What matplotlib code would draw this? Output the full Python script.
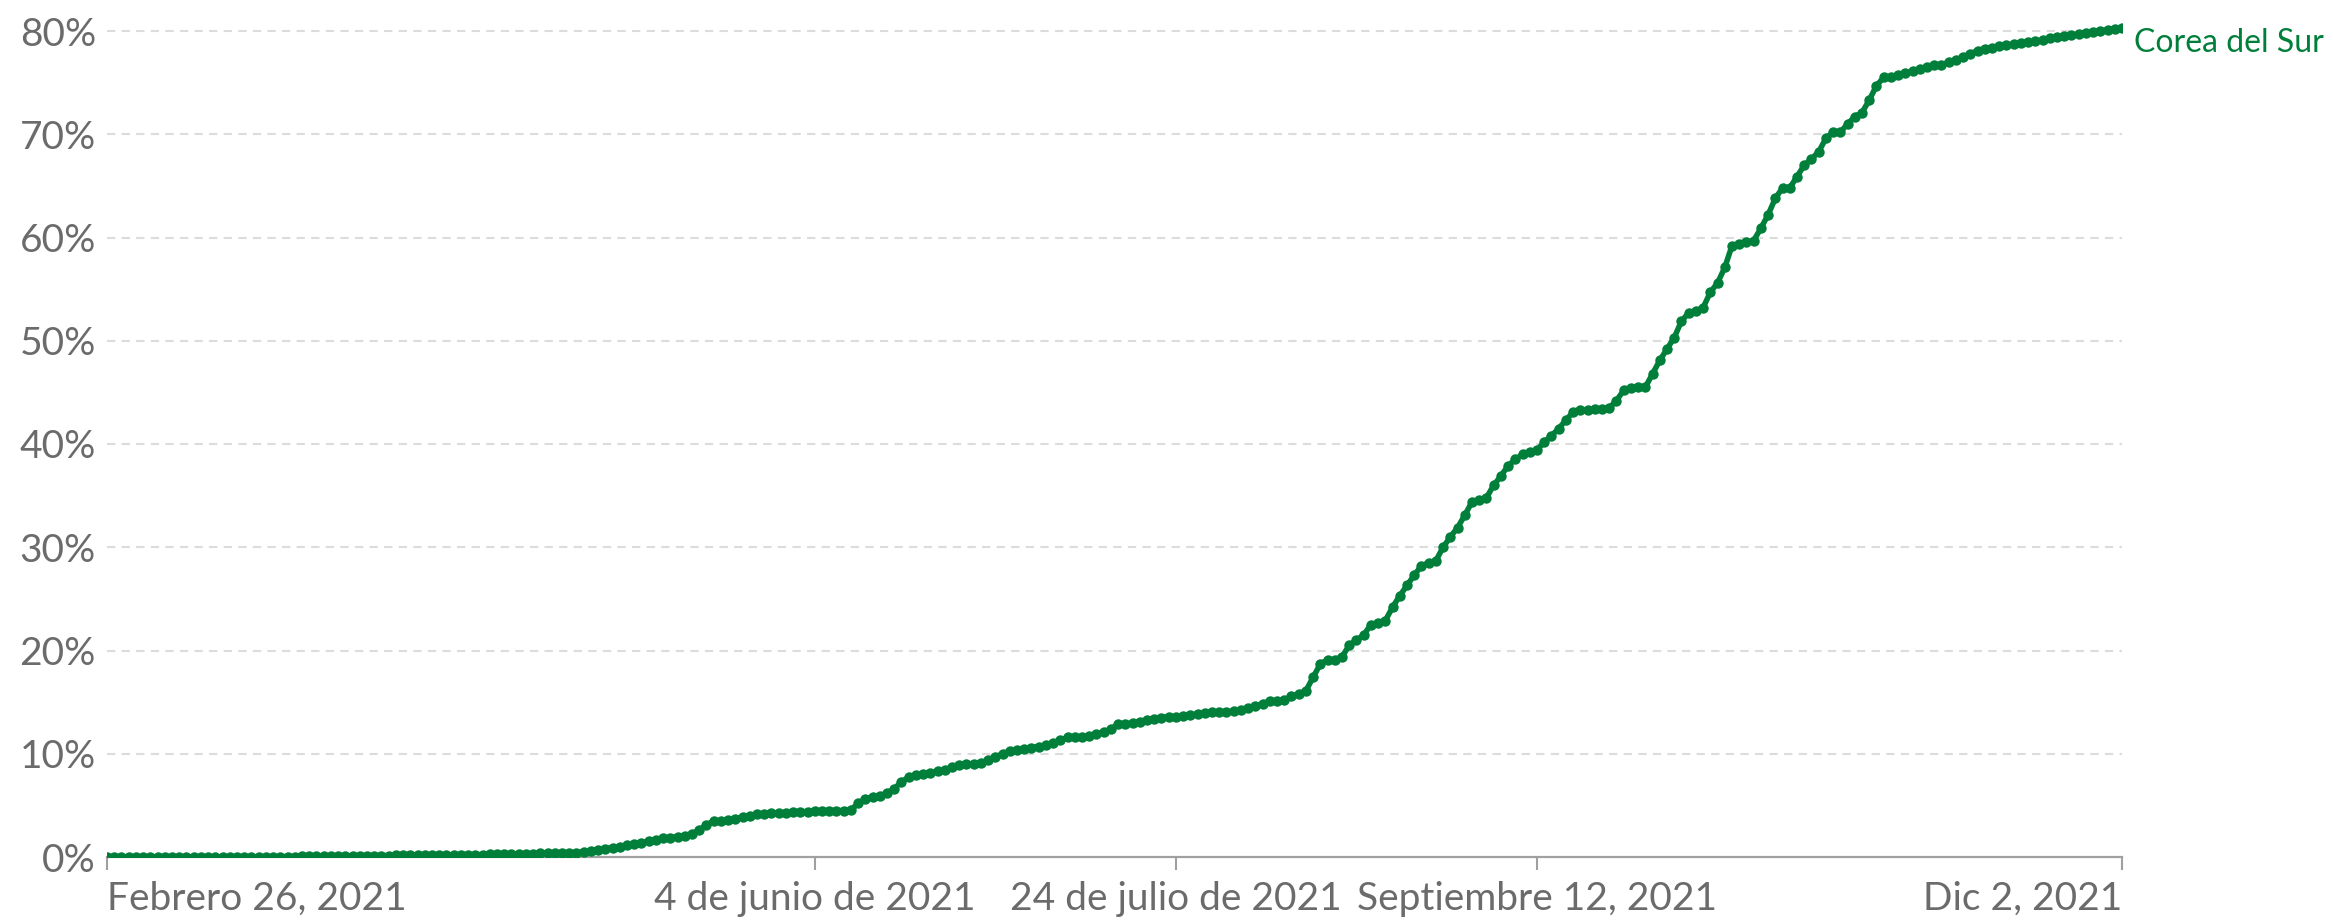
import numpy as np
import pandas as pd
import matplotlib
matplotlib.use("Agg")
import matplotlib.pyplot as plt
import matplotlib.dates as mdates

# ---- data ----
start_date = "2021-02-26"
end_date = "2021-12-02"
series_name = "Corea del Sur"
# share of people fully vaccinated (%), one value per day from Feb 26 to Dec 2, 2021
values = [
    0, 0, 0, 0, 0, 0, 0,
    0, 0, 0, 0, 0, 0, 0,
    0, 0, 0, 0, 0, 0, 0,
    0.00, 0.01, 0.02, 0.02, 0.03, 0.04, 0.05,
    0.06, 0.06, 0.07, 0.08, 0.09, 0.10, 0.10,
    0.11, 0.11, 0.12, 0.13, 0.14, 0.15, 0.15,
    0.16, 0.16, 0.17, 0.18, 0.19, 0.20, 0.20,
    0.21, 0.21, 0.22, 0.24, 0.26, 0.28, 0.28,
    0.29, 0.29, 0.31, 0.33, 0.34, 0.35, 0.36,
    0.38, 0.40, 0.42, 0.50, 0.58, 0.68, 0.80,
    0.90, 1.00, 1.12, 1.26, 1.40, 1.52, 1.66,
    1.80, 1.88, 1.95, 2.05, 2.25, 2.60, 3.10,
    3.50, 3.50, 3.55, 3.70, 3.85, 4.00, 4.12,
    4.20, 4.22, 4.26, 4.30, 4.33, 4.37, 4.40,
    4.43, 4.47, 4.50, 4.50, 4.50, 4.55, 5.20,
    5.60, 5.85, 5.90, 6.20, 6.60, 7.30, 7.70,
    7.90, 8.00, 8.15, 8.30, 8.45, 8.70, 8.90,
    9.00, 9.05, 9.10, 9.40, 9.70, 10.00, 10.25,
    10.40, 10.50, 10.60, 10.70, 10.80, 11.00, 11.30,
    11.60, 11.65, 11.65, 11.70, 11.90, 12.10, 12.40,
    12.85, 12.90, 12.95, 13.10, 13.30, 13.40, 13.50,
    13.60, 13.60, 13.65, 13.75, 13.85, 13.95, 14.05,
    14.07, 14.07, 14.10, 14.20, 14.40, 14.60, 14.85,
    15.10, 15.10, 15.20, 15.55, 15.80, 16.10, 17.40,
    18.70, 19.10, 19.10, 19.40, 20.50, 21.00, 21.50,
    22.50, 22.70, 22.90, 24.20, 25.30, 26.30, 27.30,
    28.20, 28.50, 28.70, 30.00, 31.00, 31.90, 33.10,
    34.40, 34.60, 34.80, 36.00, 36.90, 37.90, 38.50,
    39.00, 39.20, 39.40, 40.20, 40.80, 41.50, 42.30,
    43.10, 43.30, 43.30, 43.40, 43.40, 43.50, 44.20,
    45.20, 45.40, 45.50, 45.50, 46.80, 48.10, 49.20,
    50.30, 51.90, 52.70, 52.90, 53.20, 54.70, 55.60,
    57.10, 59.20, 59.40, 59.60, 59.70, 60.90, 62.20,
    63.80, 64.80, 64.80, 65.90, 67.00, 67.60, 68.30,
    69.60, 70.20, 70.20, 71.00, 71.70, 72.10, 73.30,
    74.70, 75.50, 75.50, 75.70, 75.90, 76.10, 76.30,
    76.50, 76.70, 76.70, 77.00, 77.20, 77.50, 77.80,
    78.10, 78.30, 78.40, 78.50, 78.60, 78.70, 78.80,
    78.90, 79.00, 79.10, 79.30, 79.40, 79.50, 79.60,
    79.70, 79.80, 79.90, 80.00, 80.10, 80.20, 80.30,
]
y_ticks = [0, 10, 20, 30, 40, 50, 60, 70, 80]
x_tick_dates = ["2021-02-26", "2021-06-04", "2021-07-24", "2021-09-12", "2021-12-02"]
x_tick_labels = ["Febrero 26, 2021", "4 de junio de 2021", "24 de julio de 2021",
                 "Septiembre 12, 2021", "Dic 2, 2021"]

# ---- style ----
FONT = "Lato"
GREEN = "#007f3a"
TEXT = "#6b6b6b"
W, H, DPI = 2333, 923, 100

dates = pd.date_range(start_date, periods=len(values), freq="D")

fig = plt.figure(figsize=(W / DPI, H / DPI), dpi=DPI)
left, right = 107 / W, 2122 / W
bottom = 1 - 857 / H
ymax = 82
top_px = 857 - ymax * (826 / 80)
top = 1 - top_px / H
ax = fig.add_axes([left, bottom, right - left, top - bottom])

ax.set_xlim(pd.Timestamp(start_date), pd.Timestamp(end_date))
ax.set_ylim(0, ymax)

# grid
for v in y_ticks[1:]:
    ax.axhline(v, color="#dcdcdc", lw=1.5, dashes=(4, 3), zorder=1)

ax.plot(dates, values, color=GREEN, lw=4.0, marker="o", ms=7.5,
        markeredgewidth=0, zorder=3, solid_capstyle="round",
        solid_joinstyle="round")

for s in ["top", "right", "left"]:
    ax.spines[s].set_visible(False)
ax.spines["bottom"].set_color("#a0a0a0")
ax.spines["bottom"].set_linewidth(1.6)

ax.set_yticks(y_ticks)
ax.set_yticklabels([f"{v}%" for v in y_ticks])
ax.tick_params(axis="y", length=0, pad=8, labelsize=28, labelcolor=TEXT)

ax.set_xticks([pd.Timestamp(d) for d in x_tick_dates])
ax.set_xticklabels(x_tick_labels)
ax.tick_params(axis="x", length=9, width=1.5, color="#a0a0a0", pad=8,
               labelsize=28, labelcolor=TEXT)
xl = ax.get_xticklabels()
xl[0].set_ha("left")
xl[-1].set_ha("right")
for t in ax.get_xticklabels() + ax.get_yticklabels():
    t.set_fontfamily(FONT)

ax.annotate(series_name, xy=(dates[-1], values[-1]), xytext=(9, -11),
            textcoords="offset points", va="center", ha="left",
            color=GREEN, fontsize=23, fontfamily=FONT, annotation_clip=False)

fig.savefig("out.png", dpi=DPI)
